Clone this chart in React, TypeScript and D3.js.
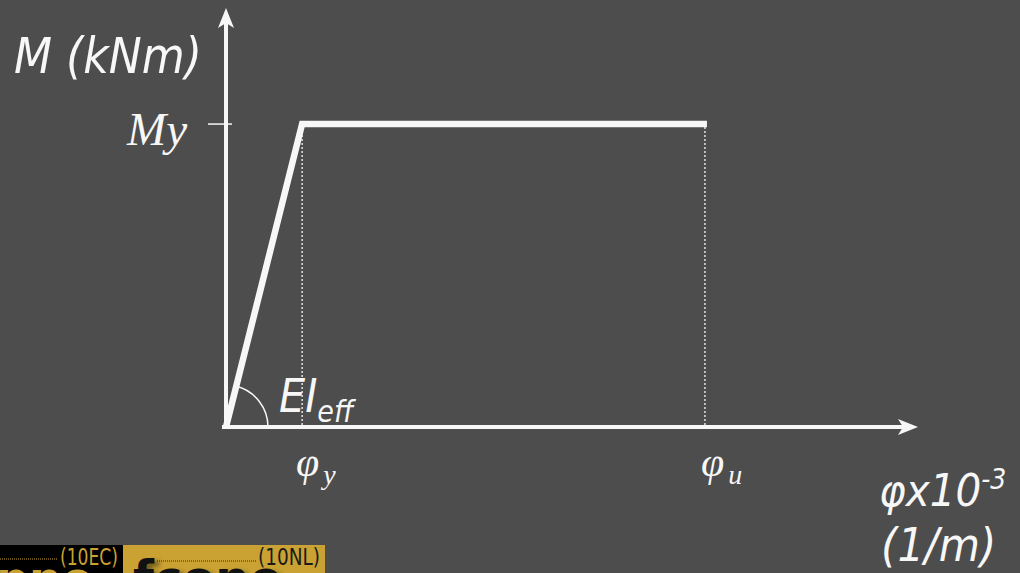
import React from "react";
import * as d3 from "d3";

// Idealised bilinear moment–curvature relation (schematic units)
const curvePhi = [0, 11, 69.5];
const curveM = [0, 72.3, 72.3];
// Characteristic curvatures marked on the horizontal axis
const markPhi = [11, 69.5];
const markLabels = ["y", "u"];
const yieldMoment = 72.3;

const W = 1020;
const H = 573;
const BG = "#4d4d4d";
const FG = "#f7f7f7";
const GOLD = "#c9a233";
const SANS = "'DejaVu Sans Condensed', 'DejaVu Sans', Verdana, sans-serif";
const SERIF = "'Liberation Serif', 'DejaVu Serif', serif";
const NARROW = "'Liberation Sans Narrow', 'DejaVu Sans Condensed', sans-serif";

export default function App() {
  const x = d3.scaleLinear().domain([0, 100]).range([226, 918]);
  const y = d3.scaleLinear().domain([0, 100]).range([427, 8]);

  const line = d3
    .line<number>()
    .x((_, i) => x(curvePhi[i]))
    .y((d) => y(d));

  const x0 = x(0);
  const y0 = y(0);
  const xTip = x(100);
  const yTip = y(100);

  // angle of the elastic branch, for the stiffness arc
  const ang = Math.atan2(y0 - y(curveM[1]), x(curvePhi[1]) - x0);
  const arc = d3
    .arc()
    .innerRadius(42)
    .outerRadius(42)
    .startAngle(Math.PI / 2 - ang)
    .endAngle(Math.PI / 2);

  return (
    <svg
      width={W}
      height={H}
      style={{ position: "absolute", left: 0, top: 0, display: "block" }}
    >
      <defs>
        <clipPath id="logoClip">
          <rect x={0} y={545} width={325} height={28} />
        </clipPath>
        <filter id="shadow" x="-10%" y="-10%" width="130%" height="130%">
          <feGaussianBlur stdDeviation="2" />
        </filter>
      </defs>
      <rect x={0} y={0} width={W} height={H} fill={BG} />

      {/* dotted guides at characteristic curvatures */}
      {markPhi.map((p, i) => (
        <line
          key={"g" + i}
          x1={x(p) + (i === 0 ? 0 : -2)}
          x2={x(p) + (i === 0 ? 0 : -2)}
          y1={y(yieldMoment) + 3}
          y2={y0}
          stroke={FG}
          strokeWidth={1.3}
          strokeDasharray="2 2"
        />
      ))}

      {/* axes */}
      <line x1={x0} x2={x0} y1={y0 + 2} y2={yTip + 14} stroke={FG} strokeWidth={4} />
      <path
        d={`M${x0},${yTip} L${x0 - 8},${yTip + 20} L${x0},${yTip + 15} L${x0 + 8},${yTip + 20} Z`}
        fill={FG}
      />
      <line x1={x0 - 4} x2={xTip - 14} y1={y0} y2={y0} stroke={FG} strokeWidth={4} />
      <path
        d={`M${xTip},${y0} L${xTip - 20},${y0 - 8} L${xTip - 15},${y0} L${xTip - 20},${y0 + 8} Z`}
        fill={FG}
      />

      {/* yield moment tick */}
      <line x1={x0 - 18} x2={x0 + 6} y1={y(yieldMoment)} y2={y(yieldMoment)} stroke={FG} strokeWidth={1.5} />

      {/* moment–curvature curve */}
      <path
        d={line(curveM) || ""}
        fill="none"
        stroke={FG}
        strokeWidth={6.5}
        strokeLinejoin="miter"
      />

      {/* stiffness arc */}
      <path
        d={arc({} as any) || ""}
        transform={`translate(${x0},${y0})`}
        fill="none"
        stroke={FG}
        strokeWidth={1.5}
      />

      {/* labels */}
      <text x={14} y={73} fill={FG} fontFamily={SANS} fontStyle="italic" fontSize={49}>
        M (kNm)
      </text>
      <text x={187} y={145} fill={FG} fontFamily={SERIF} fontStyle="italic" fontSize={47} textAnchor="end">
        My
      </text>
      <text x={279} y={412} fill={FG} fontFamily={SANS} fontStyle="italic" fontSize={46}>
        EI
        <tspan fontSize={30} dy={10}>eff</tspan>
      </text>
      {markPhi.map((p, i) => (
        <text
          key={"l" + i}
          x={x(p) - 6}
          y={476}
          fill={FG}
          fontFamily={SERIF}
          fontStyle="italic"
          fontSize={42}
        >
          φ
          <tspan fontSize={28} dy={8} dx={4}>
            {markLabels[i]}
          </tspan>
        </text>
      ))}
      <text x={879} y={506} fill={FG} fontFamily={SANS} fontStyle="italic" fontSize={45}>
        φx10
        <tspan fontSize={28} dy={-17}>-3</tspan>
      </text>
      <text x={881} y={561} fill={FG} fontFamily={SANS} fontStyle="italic" fontSize={47}>
        (1/m)
      </text>

      {/* footer badge */}
      <g clipPath="url(#logoClip)">
        <rect x={0} y={545} width={123} height={28} fill="#000" />
        <rect x={123} y={545} width={202} height={28} fill={GOLD} />
        <line x1={0} x2={57} y1={559} y2={559} stroke={GOLD} strokeWidth={1} strokeDasharray="1 1" />
        <text x={118} y={565} fill={GOLD} fontFamily={NARROW} fontSize={23} textAnchor="end" textLength={58} lengthAdjust="spacingAndGlyphs">
          (10EC)
        </text>
        <text x={-4} y={595} fill={GOLD} fontFamily="'DejaVu Sans', sans-serif" fontWeight="bold" fontSize={46}>
          pne
        </text>
        <line x1={157} x2={256} y1={561} y2={561} stroke="#3a3010" strokeWidth={1} strokeDasharray="1 1" />
        <text x={320} y={565} fill="#1a1a1a" fontFamily={NARROW} fontSize={23} textAnchor="end" textLength={62} lengthAdjust="spacingAndGlyphs">
          (10NL)
        </text>
        <text x={138} y={598} fill="#3a2f0c" opacity={0.6} filter="url(#shadow)" fontFamily="'DejaVu Sans', sans-serif" fontWeight="bold" fontSize={48}>
          fcone
        </text>
        <text x={133} y={595} fill="#111" fontFamily="'DejaVu Sans', sans-serif" fontWeight="bold" fontSize={48}>
          fcone
        </text>
      </g>
    </svg>
  );
}
